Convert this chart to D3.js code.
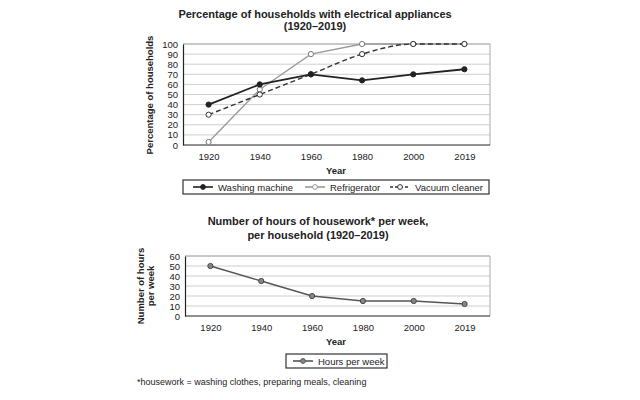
<!DOCTYPE html>
<html>
<head>
<meta charset="utf-8">
<script src="https://cdn.jsdelivr.net/npm/d3@7"></script>
<style>
  body { margin: 0; background: #fff; }
  svg { font-family: "Liberation Sans", Arial, sans-serif; }
  .grid line { stroke: #cfcfcf; stroke-width: 1; }
  .tick text { fill: #222; font-size: 9.5px; }
</style>
</head>
<body>
<div id="chart"></div>
<script>
// data
const years = ['1920', '1940', '1960', '1980', '2000', '2019']
const washing = [40, 60, 70, 64, 70, 75]
const fridge = [3, 55, 90, 100, 100, 100]
const vacuum = [30, 50, 70, 90, 100, 100]
const hours = [50, 35, 20, 15, 15, 12]
const pctTicks = [0, 10, 20, 30, 40, 50, 60, 70, 80, 90, 100]
const hourTicks = [0, 10, 20, 30, 40, 50, 60]

const svg = d3.select('#chart').append('svg')
    .attr('width', 640).attr('height', 400)

// draws one framed panel with grid + axes, returns scales
function panel(t, h, left, right, yMax, ticks) {
    const x = d3.scalePoint().domain(years).range([left, right]).padding(0.5)
    const y = d3.scaleLinear().domain([0, yMax]).range([t + h, t])

    // grid
    svg.append('g').attr('class', 'grid')
       .selectAll('line').data(ticks.slice(1)).enter().append('line')
       .attr('x1', left).attr('x2', right)
       .attr('y1', d => y(d)).attr('y2', d => y(d))

    // light frame on top/right
    svg.append('path')
       .attr('d', `M${left},${t}H${right}V${t + h}`)
       .attr('fill', 'none').attr('stroke', '#aaa')

    const ya = svg.append('g').attr('transform', `translate(${left},0)`)
       .call(d3.axisLeft(y).tickValues(ticks).tickSize(0).tickPadding(5))
    ya.select('.domain').attr('stroke', '#222').attr('stroke-width', 1.2)

    const xa = svg.append('g').attr('transform', `translate(0,${t + h})`)
       .call(d3.axisBottom(x).tickSize(0).tickPadding(8))
    xa.select('.domain').attr('stroke', '#222').attr('stroke-width', 1.2)
       .attr('d', `M${left},0H${right}`)
    return {x, y}
}

function series(sc, vals, opts) {
    const line = d3.line()
        .x((d, i) => sc.x(years[i])).y(d => sc.y(d))
        .curve(opts.curve || d3.curveLinear)
    svg.append('path').datum(vals)
       .attr('d', line).attr('fill', 'none')
       .attr('stroke', opts.stroke).attr('stroke-width', opts.width || 1.6)
       .attr('stroke-dasharray', opts.dash || null)
    svg.append('g').selectAll('circle').data(vals).enter().append('circle')
       .attr('cx', (d, i) => sc.x(years[i])).attr('cy', d => sc.y(d))
       .attr('r', opts.r || 2.6)
       .attr('fill', opts.fill).attr('stroke', opts.mstroke || opts.stroke)
       .attr('stroke-width', 1)
}

function label(x, y, txt, size, weight, anchor, rot) {
    const t = svg.append('text').attr('x', x).attr('y', y)
       .attr('font-size', size).attr('font-weight', weight || 'normal')
       .attr('text-anchor', anchor || 'middle').attr('fill', '#222').text(txt)
    if (rot) t.attr('transform', `rotate(-90,${x},${y})`)
    return t
}

function legendItem(g, x, y, txt, opts) {
    g.append('line').attr('x1', x).attr('x2', x + 20).attr('y1', y).attr('y2', y)
     .attr('stroke', opts.stroke).attr('stroke-width', 1.6)
     .attr('stroke-dasharray', opts.dash || null)
    g.append('circle').attr('cx', x + 10).attr('cy', y).attr('r', 2.4)
     .attr('fill', opts.fill).attr('stroke', opts.stroke)
    g.append('text').attr('x', x + 25).attr('y', y + 3.5)
     .attr('font-size', 9.5).attr('fill', '#222').text(txt)
}

// ---- top chart ----
label(315, 18, 'Percentage of households with electrical appliances', 11, 'bold')
label(315, 30, '(1920\u20132019)', 11, 'bold')
const topSc = panel(44, 101, 183, 490, 100, pctTicks)
label(153, 95, 'Percentage of households', 9.5, 'bold', 'middle', true)
label(336, 174, 'Year', 9.5, 'bold')

series(topSc, fridge, {stroke: '#9a9a9a', fill: '#fff', mstroke: '#777', width: 1.3})
series(topSc, vacuum, {stroke: '#333', fill: '#fff', dash: '5,3', curve: d3.curveMonotoneX, width: 1.4})
series(topSc, washing, {stroke: '#222', fill: '#222', width: 1.8})

const lg1 = svg.append('g')
lg1.append('rect').attr('x', 183).attr('y', 180).attr('width', 306).attr('height', 14)
   .attr('fill', '#fff').attr('stroke', '#333').attr('stroke-width', 1.2)
legendItem(lg1, 193, 187, 'Washing machine', {stroke: '#222', fill: '#222'})
legendItem(lg1, 305, 187, 'Refrigerator', {stroke: '#999', fill: '#fff'})
legendItem(lg1, 390, 187, 'Vacuum cleaner', {stroke: '#333', fill: '#fff', dash: '3,2'})

// ---- bottom chart ----
label(318, 225, 'Number of hours of housework* per week,', 11, 'bold')
label(318, 239, 'per household (1920\u20132019)', 11, 'bold')
const botSc = panel(256, 60, 185, 490, 60, hourTicks)
label(144, 286, 'Number of hours', 9.5, 'bold', 'middle', true)
label(154, 286, 'per week', 9.5, 'bold', 'middle', true)
label(336, 345, 'Year', 9.5, 'bold')

series(botSc, hours, {stroke: '#555', fill: '#888', mstroke: '#444', width: 1.4})

const lg2 = svg.append('g')
lg2.append('rect').attr('x', 286).attr('y', 354).attr('width', 101).attr('height', 14)
   .attr('fill', '#fff').attr('stroke', '#333').attr('stroke-width', 1.2)
legendItem(lg2, 293, 361, 'Hours per week', {stroke: '#555', fill: '#888'})

label(137, 385, '*housework = washing clothes, preparing meals, cleaning', 9, 'normal', 'start')
</script>
</body>
</html>
